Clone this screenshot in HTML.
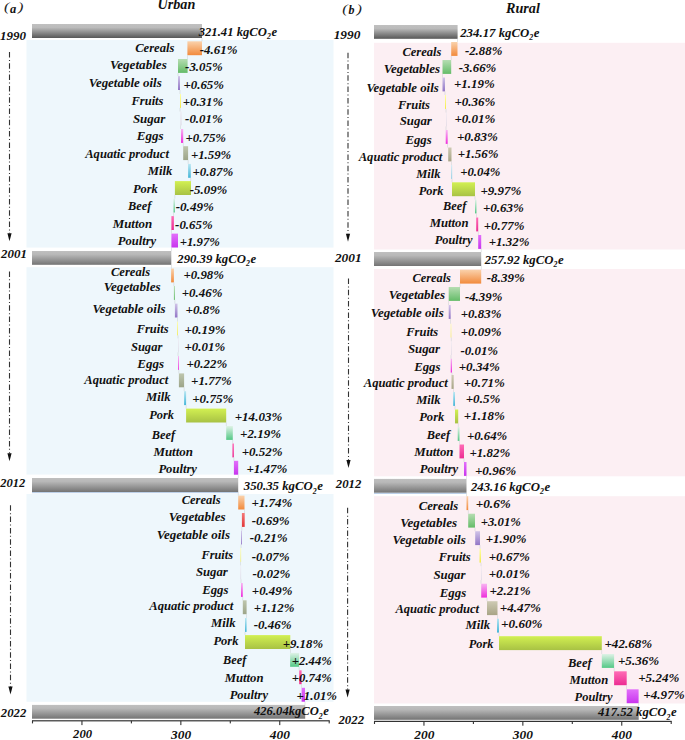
<!DOCTYPE html>
<html><head><meta charset="utf-8"><style>html,body{margin:0;padding:0;background:#fff;overflow:hidden}svg{display:block}</style></head><body>
<svg width="685" height="740" viewBox="0 0 685 740" font-family="'Liberation Serif', serif" font-weight="bold" font-style="italic">
<defs>
<linearGradient id="g_cereal" x1="0" y1="0" x2="0" y2="1"><stop offset="0" stop-color="#FAD2AC"/><stop offset="1" stop-color="#F28A3C"/></linearGradient>
<linearGradient id="g_veg" x1="0" y1="0" x2="0" y2="1"><stop offset="0" stop-color="#B6DDB2"/><stop offset="1" stop-color="#64BC68"/></linearGradient>
<linearGradient id="g_vegred" x1="0" y1="0" x2="0" y2="1"><stop offset="0" stop-color="#F47878"/><stop offset="1" stop-color="#E23636"/></linearGradient>
<linearGradient id="g_oil" x1="0" y1="0" x2="0" y2="1"><stop offset="0" stop-color="#D0C4E8"/><stop offset="1" stop-color="#9276C6"/></linearGradient>
<linearGradient id="g_fruit" x1="0" y1="0" x2="0" y2="1"><stop offset="0" stop-color="#FFFFA8"/><stop offset="1" stop-color="#F2EA4A"/></linearGradient>
<linearGradient id="g_sugar" x1="0" y1="0" x2="0" y2="1"><stop offset="0" stop-color="#EEEAF2"/><stop offset="1" stop-color="#D8D2E0"/></linearGradient>
<linearGradient id="g_egg" x1="0" y1="0" x2="0" y2="1"><stop offset="0" stop-color="#F8B4F2"/><stop offset="1" stop-color="#EE2EDC"/></linearGradient>
<linearGradient id="g_aqua" x1="0" y1="0" x2="0" y2="1"><stop offset="0" stop-color="#BEC6AE"/><stop offset="1" stop-color="#9CA488"/></linearGradient>
<linearGradient id="g_aquaR" x1="0" y1="0" x2="0" y2="1"><stop offset="0" stop-color="#CECAB4"/><stop offset="1" stop-color="#A8A486"/></linearGradient>
<linearGradient id="g_milk" x1="0" y1="0" x2="0" y2="1"><stop offset="0" stop-color="#B8E6F2"/><stop offset="1" stop-color="#44B6D8"/></linearGradient>
<linearGradient id="g_pork" x1="0" y1="0" x2="0" y2="1"><stop offset="0" stop-color="#D2F052"/><stop offset="1" stop-color="#A8C244"/></linearGradient>
<linearGradient id="g_beef" x1="0" y1="0" x2="0" y2="1"><stop offset="0" stop-color="#DEF2E6"/><stop offset="1" stop-color="#54C886"/></linearGradient>
<linearGradient id="g_mutton" x1="0" y1="0" x2="0" y2="1"><stop offset="0" stop-color="#FF6CB6"/><stop offset="1" stop-color="#EC2C92"/></linearGradient>
<linearGradient id="g_poultry" x1="0" y1="0" x2="0" y2="1"><stop offset="0" stop-color="#E270FA"/><stop offset="1" stop-color="#C834EE"/></linearGradient>
<linearGradient id="g_gd" x1="0" y1="0" x2="0" y2="1"><stop offset="0" stop-color="#C0C0C0"/><stop offset="0.25" stop-color="#BBBBBB"/><stop offset="1" stop-color="#575757"/></linearGradient>
<linearGradient id="g_gl" x1="0" y1="0" x2="0" y2="1"><stop offset="0" stop-color="#BFBFBF"/><stop offset="0.25" stop-color="#B8B8B8"/><stop offset="1" stop-color="#747474"/></linearGradient>
</defs>
<rect width="685" height="740" fill="#fff"/>
<rect x="26.5" y="40" width="307.0" height="207.6" fill="#EEF7FC"/>
<rect x="26.5" y="267.2" width="307.0" height="207.4" fill="#EEF7FC"/>
<rect x="26.5" y="494" width="307.0" height="207.8" fill="#EEF7FC"/>
<rect x="374" y="42.8" width="311" height="206.7" fill="#FCEFF3"/>
<rect x="374" y="269" width="311" height="207.3" fill="#FCEFF3"/>
<rect x="374" y="496.2" width="311" height="207.3" fill="#FCEFF3"/>
<rect x="32" y="24" width="170.0" height="14.0" fill="url(#g_gd)"/>
<rect x="32" y="251" width="139.3" height="13.8" fill="url(#g_gl)"/>
<rect x="32" y="478" width="206.2" height="14.0" fill="url(#g_gl)"/>
<rect x="32" y="704.9" width="273.2" height="13.8" fill="url(#g_gl)"/>
<rect x="374" y="25" width="83.6" height="13.8" fill="url(#g_gd)"/>
<rect x="374" y="252" width="107.2" height="14.0" fill="url(#g_gl)"/>
<rect x="374" y="478.9" width="92.5" height="13.9" fill="url(#g_gl)"/>
<rect x="374" y="706" width="264.7" height="13.8" fill="url(#g_gl)"/>
<rect x="32" y="492" width="206.2" height="1.2" fill="#BCD0E8"/>
<rect x="374" y="492.8" width="92.5" height="1.2" fill="#BCD0E8"/>
<rect x="187.4" y="41.3" width="14.60" height="13.9" fill="url(#g_cereal)"/>
<rect x="178" y="59" width="9.60" height="13.9" fill="url(#g_veg)"/>
<rect x="178" y="76.1" width="2.00" height="13.9" fill="url(#g_oil)"/>
<rect x="180" y="94" width="1.00" height="13.9" fill="url(#g_fruit)"/>
<rect x="180.5" y="111.5" width="1.00" height="13.9" fill="url(#g_sugar)"/>
<rect x="181" y="129" width="2.20" height="13.9" fill="url(#g_egg)"/>
<rect x="183.2" y="146.2" width="4.90" height="13.9" fill="url(#g_aqua)"/>
<rect x="188.1" y="163.9" width="2.70" height="13.9" fill="url(#g_milk)"/>
<rect x="174.9" y="181.1" width="16.10" height="13.9" fill="url(#g_pork)"/>
<rect x="173.5" y="198.6" width="1.40" height="13.9" fill="url(#g_beef)"/>
<rect x="171.4" y="216.1" width="2.50" height="13.9" fill="url(#g_mutton)"/>
<rect x="171.4" y="233.6" width="6.60" height="13.9" fill="url(#g_poultry)"/>
<rect x="171.1" y="268.5" width="2.80" height="13.9" fill="url(#g_cereal)"/>
<rect x="173.9" y="286" width="1.00" height="13.9" fill="url(#g_veg)"/>
<rect x="174.9" y="303.6" width="2.60" height="13.9" fill="url(#g_oil)"/>
<rect x="177.2" y="321.5" width="0.80" height="13.9" fill="url(#g_fruit)"/>
<rect x="178" y="338.4" width="0.60" height="13.9" fill="url(#g_sugar)"/>
<rect x="178" y="356" width="0.90" height="13.9" fill="url(#g_egg)"/>
<rect x="178.9" y="373.4" width="5.20" height="13.9" fill="url(#g_aqua)"/>
<rect x="184.1" y="391.2" width="2.00" height="13.9" fill="url(#g_milk)"/>
<rect x="186.1" y="408.6" width="40.10" height="13.9" fill="url(#g_pork)"/>
<rect x="226.2" y="426" width="6.60" height="13.9" fill="url(#g_beef)"/>
<rect x="232.4" y="443.5" width="1.50" height="13.9" fill="url(#g_mutton)"/>
<rect x="233.9" y="460.8" width="4.30" height="13.9" fill="url(#g_poultry)"/>
<rect x="238.2" y="495.6" width="6.30" height="13.9" fill="url(#g_cereal)"/>
<rect x="241.9" y="513" width="2.80" height="13.9" fill="url(#g_vegred)"/>
<rect x="241" y="530.6" width="0.90" height="13.9" fill="url(#g_oil)"/>
<rect x="240.5" y="548" width="0.60" height="13.9" fill="url(#g_fruit)"/>
<rect x="240.5" y="565.4" width="0.60" height="13.9" fill="url(#g_sugar)"/>
<rect x="241" y="583" width="1.80" height="13.9" fill="url(#g_egg)"/>
<rect x="242.8" y="600.3" width="3.80" height="13.9" fill="url(#g_aqua)"/>
<rect x="245" y="618" width="1.60" height="13.9" fill="url(#g_milk)"/>
<rect x="245" y="635.1" width="45.30" height="13.9" fill="url(#g_pork)"/>
<rect x="290.1" y="652.9" width="9.00" height="13.9" fill="url(#g_beef)"/>
<rect x="299.2" y="670.3" width="2.40" height="13.9" fill="url(#g_mutton)"/>
<rect x="301.6" y="687.8" width="3.40" height="13.9" fill="url(#g_poultry)"/>
<rect x="451.2" y="42" width="6.30" height="13.9" fill="url(#g_cereal)"/>
<rect x="442.5" y="60" width="8.70" height="13.9" fill="url(#g_veg)"/>
<rect x="442.5" y="77.5" width="2.50" height="13.9" fill="url(#g_oil)"/>
<rect x="445" y="95" width="1.00" height="13.9" fill="url(#g_fruit)"/>
<rect x="446" y="112.5" width="0.60" height="13.9" fill="url(#g_sugar)"/>
<rect x="445.7" y="130" width="2.00" height="13.9" fill="url(#g_egg)"/>
<rect x="448.2" y="147.5" width="3.30" height="13.9" fill="url(#g_aquaR)"/>
<rect x="451.5" y="165" width="0.60" height="13.9" fill="url(#g_milk)"/>
<rect x="452" y="182.3" width="23.00" height="13.9" fill="url(#g_pork)"/>
<rect x="475" y="199.5" width="1.50" height="13.9" fill="url(#g_beef)"/>
<rect x="476.2" y="217.5" width="2.00" height="13.9" fill="url(#g_mutton)"/>
<rect x="478.2" y="235" width="3.00" height="13.9" fill="url(#g_poultry)"/>
<rect x="460" y="269.7" width="21.20" height="13.9" fill="url(#g_cereal)"/>
<rect x="448.7" y="287" width="11.30" height="13.9" fill="url(#g_veg)"/>
<rect x="448.7" y="305" width="2.00" height="13.9" fill="url(#g_oil)"/>
<rect x="450.7" y="323.7" width="0.60" height="13.9" fill="url(#g_fruit)"/>
<rect x="451" y="341.2" width="0.60" height="13.9" fill="url(#g_sugar)"/>
<rect x="450.7" y="358.7" width="1.30" height="13.9" fill="url(#g_egg)"/>
<rect x="451.5" y="375" width="2.20" height="13.9" fill="url(#g_aquaR)"/>
<rect x="453.2" y="392" width="1.80" height="13.9" fill="url(#g_milk)"/>
<rect x="455" y="409.5" width="3.20" height="13.9" fill="url(#g_pork)"/>
<rect x="457.7" y="427" width="1.80" height="13.9" fill="url(#g_beef)"/>
<rect x="459.5" y="444.5" width="4.50" height="13.9" fill="url(#g_mutton)"/>
<rect x="464" y="462" width="2.50" height="13.9" fill="url(#g_poultry)"/>
<rect x="466.5" y="496.2" width="1.70" height="13.9" fill="url(#g_cereal)"/>
<rect x="468.2" y="513.7" width="6.80" height="13.9" fill="url(#g_veg)"/>
<rect x="475.2" y="531.2" width="4.80" height="13.9" fill="url(#g_oil)"/>
<rect x="479.5" y="548.7" width="1.50" height="13.9" fill="url(#g_fruit)"/>
<rect x="481" y="566.2" width="0.60" height="13.9" fill="url(#g_sugar)"/>
<rect x="481.2" y="583.7" width="5.80" height="13.9" fill="url(#g_egg)"/>
<rect x="487" y="601.2" width="10.50" height="13.9" fill="url(#g_aquaR)"/>
<rect x="497" y="618.7" width="2.00" height="13.9" fill="url(#g_milk)"/>
<rect x="499" y="636.2" width="102.80" height="13.9" fill="url(#g_pork)"/>
<rect x="601.8" y="654" width="12.30" height="13.9" fill="url(#g_beef)"/>
<rect x="614.1" y="671.3" width="12.60" height="13.9" fill="url(#g_mutton)"/>
<rect x="626.7" y="689.3" width="11.90" height="13.9" fill="url(#g_poultry)"/>
<rect x="201.70" y="38.00" width="0.6" height="3.30" fill="#C8CCD0" opacity="0.8"/>
<rect x="187.10" y="55.20" width="0.6" height="3.80" fill="#C8CCD0" opacity="0.8"/>
<rect x="177.70" y="72.90" width="0.6" height="3.20" fill="#C8CCD0" opacity="0.8"/>
<rect x="179.70" y="90.00" width="0.6" height="4.00" fill="#C8CCD0" opacity="0.8"/>
<rect x="179.70" y="107.90" width="0.6" height="3.60" fill="#C8CCD0" opacity="0.8"/>
<rect x="180.20" y="125.40" width="0.6" height="3.60" fill="#C8CCD0" opacity="0.8"/>
<rect x="182.90" y="142.90" width="0.6" height="3.30" fill="#C8CCD0" opacity="0.8"/>
<rect x="187.80" y="160.10" width="0.6" height="3.80" fill="#C8CCD0" opacity="0.8"/>
<rect x="190.50" y="177.80" width="0.6" height="3.30" fill="#C8CCD0" opacity="0.8"/>
<rect x="174.60" y="195.00" width="0.6" height="3.60" fill="#C8CCD0" opacity="0.8"/>
<rect x="173.20" y="212.50" width="0.6" height="3.60" fill="#C8CCD0" opacity="0.8"/>
<rect x="171.10" y="230.00" width="0.6" height="3.60" fill="#C8CCD0" opacity="0.8"/>
<rect x="171.10" y="247.50" width="0.6" height="3.50" fill="#C8CCD0" opacity="0.8"/>
<rect x="171.00" y="264.80" width="0.6" height="3.70" fill="#C8CCD0" opacity="0.8"/>
<rect x="173.60" y="282.40" width="0.6" height="3.60" fill="#C8CCD0" opacity="0.8"/>
<rect x="174.60" y="299.90" width="0.6" height="3.70" fill="#C8CCD0" opacity="0.8"/>
<rect x="177.20" y="317.50" width="0.6" height="4.00" fill="#C8CCD0" opacity="0.8"/>
<rect x="177.70" y="335.40" width="0.6" height="3.00" fill="#C8CCD0" opacity="0.8"/>
<rect x="177.70" y="352.30" width="0.6" height="3.70" fill="#C8CCD0" opacity="0.8"/>
<rect x="178.60" y="369.90" width="0.6" height="3.50" fill="#C8CCD0" opacity="0.8"/>
<rect x="183.80" y="387.30" width="0.6" height="3.90" fill="#C8CCD0" opacity="0.8"/>
<rect x="185.80" y="405.10" width="0.6" height="3.50" fill="#C8CCD0" opacity="0.8"/>
<rect x="225.90" y="422.50" width="0.6" height="3.50" fill="#C8CCD0" opacity="0.8"/>
<rect x="232.50" y="439.90" width="0.6" height="3.60" fill="#C8CCD0" opacity="0.8"/>
<rect x="233.60" y="457.40" width="0.6" height="3.40" fill="#C8CCD0" opacity="0.8"/>
<rect x="237.90" y="474.70" width="0.6" height="3.30" fill="#C8CCD0" opacity="0.8"/>
<rect x="237.90" y="492.00" width="0.6" height="3.60" fill="#C8CCD0" opacity="0.8"/>
<rect x="244.20" y="509.50" width="0.6" height="3.50" fill="#C8CCD0" opacity="0.8"/>
<rect x="241.60" y="526.90" width="0.6" height="3.70" fill="#C8CCD0" opacity="0.8"/>
<rect x="240.70" y="544.50" width="0.6" height="3.50" fill="#C8CCD0" opacity="0.8"/>
<rect x="240.20" y="561.90" width="0.6" height="3.50" fill="#C8CCD0" opacity="0.8"/>
<rect x="240.70" y="579.30" width="0.6" height="3.70" fill="#C8CCD0" opacity="0.8"/>
<rect x="242.50" y="596.90" width="0.6" height="3.40" fill="#C8CCD0" opacity="0.8"/>
<rect x="246.30" y="614.20" width="0.6" height="3.80" fill="#C8CCD0" opacity="0.8"/>
<rect x="244.70" y="631.90" width="0.6" height="3.20" fill="#C8CCD0" opacity="0.8"/>
<rect x="290.00" y="649.00" width="0.6" height="3.90" fill="#C8CCD0" opacity="0.8"/>
<rect x="298.80" y="666.80" width="0.6" height="3.50" fill="#C8CCD0" opacity="0.8"/>
<rect x="301.30" y="684.20" width="0.6" height="3.60" fill="#C8CCD0" opacity="0.8"/>
<rect x="304.70" y="701.70" width="0.6" height="3.20" fill="#C8CCD0" opacity="0.8"/>
<rect x="457.30" y="38.80" width="0.6" height="3.20" fill="#C8CCD0" opacity="0.8"/>
<rect x="450.90" y="55.90" width="0.6" height="4.10" fill="#C8CCD0" opacity="0.8"/>
<rect x="442.20" y="73.90" width="0.6" height="3.60" fill="#C8CCD0" opacity="0.8"/>
<rect x="444.70" y="91.40" width="0.6" height="3.60" fill="#C8CCD0" opacity="0.8"/>
<rect x="445.70" y="108.90" width="0.6" height="3.60" fill="#C8CCD0" opacity="0.8"/>
<rect x="445.70" y="126.40" width="0.6" height="3.60" fill="#C8CCD0" opacity="0.8"/>
<rect x="447.40" y="143.90" width="0.6" height="3.60" fill="#C8CCD0" opacity="0.8"/>
<rect x="451.20" y="161.40" width="0.6" height="3.60" fill="#C8CCD0" opacity="0.8"/>
<rect x="451.70" y="178.90" width="0.6" height="3.40" fill="#C8CCD0" opacity="0.8"/>
<rect x="474.70" y="196.20" width="0.6" height="3.30" fill="#C8CCD0" opacity="0.8"/>
<rect x="476.20" y="213.40" width="0.6" height="4.10" fill="#C8CCD0" opacity="0.8"/>
<rect x="477.90" y="231.40" width="0.6" height="3.60" fill="#C8CCD0" opacity="0.8"/>
<rect x="480.90" y="248.90" width="0.6" height="3.10" fill="#C8CCD0" opacity="0.8"/>
<rect x="480.90" y="266.00" width="0.6" height="3.70" fill="#C8CCD0" opacity="0.8"/>
<rect x="459.70" y="283.60" width="0.6" height="3.40" fill="#C8CCD0" opacity="0.8"/>
<rect x="448.40" y="300.90" width="0.6" height="4.10" fill="#C8CCD0" opacity="0.8"/>
<rect x="450.40" y="318.90" width="0.6" height="4.80" fill="#C8CCD0" opacity="0.8"/>
<rect x="450.90" y="337.60" width="0.6" height="3.60" fill="#C8CCD0" opacity="0.8"/>
<rect x="450.70" y="355.10" width="0.6" height="3.60" fill="#C8CCD0" opacity="0.8"/>
<rect x="451.70" y="372.60" width="0.6" height="2.40" fill="#C8CCD0" opacity="0.8"/>
<rect x="453.40" y="388.90" width="0.6" height="3.10" fill="#C8CCD0" opacity="0.8"/>
<rect x="454.70" y="405.90" width="0.6" height="3.60" fill="#C8CCD0" opacity="0.8"/>
<rect x="457.90" y="423.40" width="0.6" height="3.60" fill="#C8CCD0" opacity="0.8"/>
<rect x="459.20" y="440.90" width="0.6" height="3.60" fill="#C8CCD0" opacity="0.8"/>
<rect x="463.70" y="458.40" width="0.6" height="3.60" fill="#C8CCD0" opacity="0.8"/>
<rect x="466.20" y="475.90" width="0.6" height="3.00" fill="#C8CCD0" opacity="0.8"/>
<rect x="466.20" y="492.80" width="0.6" height="3.40" fill="#C8CCD0" opacity="0.8"/>
<rect x="467.90" y="510.10" width="0.6" height="3.60" fill="#C8CCD0" opacity="0.8"/>
<rect x="474.70" y="527.60" width="0.6" height="3.60" fill="#C8CCD0" opacity="0.8"/>
<rect x="479.70" y="545.10" width="0.6" height="3.60" fill="#C8CCD0" opacity="0.8"/>
<rect x="480.70" y="562.60" width="0.6" height="3.60" fill="#C8CCD0" opacity="0.8"/>
<rect x="480.70" y="580.10" width="0.6" height="3.60" fill="#C8CCD0" opacity="0.8"/>
<rect x="486.70" y="597.60" width="0.6" height="3.60" fill="#C8CCD0" opacity="0.8"/>
<rect x="497.20" y="615.10" width="0.6" height="3.60" fill="#C8CCD0" opacity="0.8"/>
<rect x="498.70" y="632.60" width="0.6" height="3.60" fill="#C8CCD0" opacity="0.8"/>
<rect x="601.50" y="650.10" width="0.6" height="3.90" fill="#C8CCD0" opacity="0.8"/>
<rect x="613.80" y="667.90" width="0.6" height="3.40" fill="#C8CCD0" opacity="0.8"/>
<rect x="626.40" y="685.20" width="0.6" height="4.10" fill="#C8CCD0" opacity="0.8"/>
<rect x="638.30" y="703.20" width="0.6" height="2.80" fill="#C8CCD0" opacity="0.8"/>
<line x1="9.5" y1="52" x2="9.5" y2="233.2" stroke="#333" stroke-width="1.1" stroke-dasharray="5.5 2.4 1 2.4"/><polygon points="7.4,233.2 11.6,233.2 9.5,241.2" fill="#111"/>
<line x1="9.5" y1="271.4" x2="9.5" y2="453.2" stroke="#333" stroke-width="1.1" stroke-dasharray="5.5 2.4 1 2.4"/><polygon points="7.4,453.2 11.6,453.2 9.5,461.2" fill="#111"/>
<line x1="10.5" y1="505.3" x2="10.5" y2="686.5" stroke="#333" stroke-width="1.1" stroke-dasharray="5.5 2.4 1 2.4"/><polygon points="8.4,686.5 12.6,686.5 10.5,694.5" fill="#111"/>
<line x1="348" y1="52.7" x2="348" y2="233.7" stroke="#333" stroke-width="1.1" stroke-dasharray="5.5 2.4 1 2.4"/><polygon points="345.9,233.7 350.1,233.7 348,241.7" fill="#111"/>
<line x1="348.5" y1="278.5" x2="348.5" y2="460" stroke="#333" stroke-width="1.1" stroke-dasharray="5.5 2.4 1 2.4"/><polygon points="346.4,460 350.6,460 348.5,468" fill="#111"/>
<line x1="347.6" y1="507.8" x2="347.6" y2="689.4" stroke="#333" stroke-width="1.1" stroke-dasharray="5.5 2.4 1 2.4"/><polygon points="345.5,689.4 349.70000000000005,689.4 347.6,697.4" fill="#111"/>
<rect x="32.0" y="720.1999999999999" width="297.7" height="1.2" fill="#333"/><rect x="31.95" y="720.8" width="1.1" height="2.6" fill="#333"/><rect x="81.40" y="720.8" width="1.1" height="4.3" fill="#333"/><rect x="130.85" y="720.8" width="1.1" height="2.6" fill="#333"/><rect x="180.30" y="720.8" width="1.1" height="4.3" fill="#333"/><rect x="229.75" y="720.8" width="1.1" height="2.6" fill="#333"/><rect x="279.20" y="720.8" width="1.1" height="4.3" fill="#333"/><rect x="328.65" y="720.8" width="1.1" height="2.6" fill="#333"/>
<rect x="374.0" y="720.8" width="297.7" height="1.2" fill="#333"/><rect x="373.95" y="721.4" width="1.1" height="2.6" fill="#333"/><rect x="423.40" y="721.4" width="1.1" height="4.3" fill="#333"/><rect x="472.85" y="721.4" width="1.1" height="2.6" fill="#333"/><rect x="522.30" y="721.4" width="1.1" height="4.3" fill="#333"/><rect x="571.75" y="721.4" width="1.1" height="2.6" fill="#333"/><rect x="621.20" y="721.4" width="1.1" height="4.3" fill="#333"/><rect x="670.65" y="721.4" width="1.1" height="2.6" fill="#333"/>
<text transform="translate(135.21,51.72) scale(0.970,1)" font-size="13" fill="#111">Cereals</text>
<text transform="translate(109.89,69.22) scale(1.011,1)" font-size="13" fill="#111">Vegetables</text>
<text transform="translate(88.70,87.22) scale(0.997,1)" font-size="13" fill="#111">Vegetable oils</text>
<text transform="translate(131.41,105.42) scale(0.966,1)" font-size="13" fill="#111">Fruits</text>
<text transform="translate(132.90,122.92) scale(0.997,1)" font-size="13" fill="#111">Sugar</text>
<text transform="translate(136.70,140.21) scale(1.004,1)" font-size="13" fill="#111">Eggs</text>
<text transform="translate(85.21,158.21) scale(0.972,1)" font-size="13" fill="#111">Aquatic product</text>
<text transform="translate(147.71,175.21) scale(0.971,1)" font-size="13" fill="#111">Milk</text>
<text transform="translate(132.91,192.71) scale(0.957,1)" font-size="13" fill="#111">Pork</text>
<text transform="translate(128.09,210.21) scale(0.950,1)" font-size="13" fill="#111">Beef</text>
<text transform="translate(112.70,227.71) scale(0.995,1)" font-size="13" fill="#111">Mutton</text>
<text transform="translate(117.71,245.21) scale(0.970,1)" font-size="13" fill="#111">Poultry</text>
<text transform="translate(110.91,275.71) scale(0.970,1)" font-size="13" fill="#111">Cereals</text>
<text transform="translate(103.69,291.41) scale(1.011,1)" font-size="13" fill="#111">Vegetables</text>
<text transform="translate(92.40,313.21) scale(0.999,1)" font-size="13" fill="#111">Vegetable oils</text>
<text transform="translate(136.71,333.21) scale(0.957,1)" font-size="13" fill="#111">Fruits</text>
<text transform="translate(130.91,350.71) scale(0.966,1)" font-size="13" fill="#111">Sugar</text>
<text transform="translate(137.20,367.71) scale(1.004,1)" font-size="13" fill="#111">Eggs</text>
<text transform="translate(84.21,384.41) scale(0.975,1)" font-size="13" fill="#111">Aquatic product</text>
<text transform="translate(145.91,401.21) scale(0.975,1)" font-size="13" fill="#111">Milk</text>
<text transform="translate(149.21,419.41) scale(0.953,1)" font-size="13" fill="#111">Pork</text>
<text transform="translate(151.78,438.71) scale(0.950,1)" font-size="13" fill="#111">Beef</text>
<text transform="translate(153.40,456.21) scale(0.997,1)" font-size="13" fill="#111">Mutton</text>
<text transform="translate(158.41,473.21) scale(0.972,1)" font-size="13" fill="#111">Poultry</text>
<text transform="translate(181.71,503.71) scale(0.964,1)" font-size="13" fill="#111">Cereals</text>
<text transform="translate(168.69,520.72) scale(1.011,1)" font-size="13" fill="#111">Vegetables</text>
<text transform="translate(156.70,538.72) scale(1.001,1)" font-size="13" fill="#111">Vegetable oils</text>
<text transform="translate(201.41,558.92) scale(0.951,1)" font-size="13" fill="#111">Fruits</text>
<text transform="translate(195.91,576.22) scale(0.981,1)" font-size="13" fill="#111">Sugar</text>
<text transform="translate(202.20,593.72) scale(0.984,1)" font-size="13" fill="#111">Eggs</text>
<text transform="translate(149.21,610.22) scale(0.975,1)" font-size="13" fill="#111">Aquatic product</text>
<text transform="translate(210.91,626.92) scale(0.975,1)" font-size="13" fill="#111">Milk</text>
<text transform="translate(213.41,644.92) scale(0.965,1)" font-size="13" fill="#111">Pork</text>
<text transform="translate(223.09,664.42) scale(0.950,1)" font-size="13" fill="#111">Beef</text>
<text transform="translate(224.71,681.92) scale(0.977,1)" font-size="13" fill="#111">Mutton</text>
<text transform="translate(229.71,698.72) scale(0.964,1)" font-size="13" fill="#111">Poultry</text>
<text transform="translate(402.41,56.22) scale(0.964,1)" font-size="13" fill="#111">Cereals</text>
<text transform="translate(383.70,73.22) scale(1.002,1)" font-size="13" fill="#111">Vegetables</text>
<text transform="translate(366.42,91.92) scale(0.987,1)" font-size="13" fill="#111">Vegetable oils</text>
<text transform="translate(397.91,108.72) scale(0.966,1)" font-size="13" fill="#111">Fruits</text>
<text transform="translate(399.70,125.22) scale(0.988,1)" font-size="13" fill="#111">Sugar</text>
<text transform="translate(405.40,143.71) scale(0.984,1)" font-size="13" fill="#111">Eggs</text>
<text transform="translate(358.71,161.41) scale(0.969,1)" font-size="13" fill="#111">Aquatic product</text>
<text transform="translate(416.21,178.21) scale(0.963,1)" font-size="13" fill="#111">Milk</text>
<text transform="translate(418.71,195.21) scale(0.953,1)" font-size="13" fill="#111">Pork</text>
<text transform="translate(443.08,210.21) scale(0.950,1)" font-size="13" fill="#111">Beef</text>
<text transform="translate(429.71,226.91) scale(0.977,1)" font-size="13" fill="#111">Mutton</text>
<text transform="translate(434.71,243.71) scale(0.952,1)" font-size="13" fill="#111">Poultry</text>
<text transform="translate(412.41,282.41) scale(0.952,1)" font-size="13" fill="#111">Cereals</text>
<text transform="translate(388.70,298.71) scale(1.002,1)" font-size="13" fill="#111">Vegetables</text>
<text transform="translate(370.70,316.91) scale(0.997,1)" font-size="13" fill="#111">Vegetable oils</text>
<text transform="translate(406.21,335.71) scale(0.963,1)" font-size="13" fill="#111">Fruits</text>
<text transform="translate(407.90,352.71) scale(0.988,1)" font-size="13" fill="#111">Sugar</text>
<text transform="translate(414.20,370.71) scale(0.984,1)" font-size="13" fill="#111">Eggs</text>
<text transform="translate(363.71,386.91) scale(0.975,1)" font-size="13" fill="#111">Aquatic product</text>
<text transform="translate(416.21,404.41) scale(0.963,1)" font-size="13" fill="#111">Milk</text>
<text transform="translate(419.21,421.41) scale(0.965,1)" font-size="13" fill="#111">Pork</text>
<text transform="translate(426.78,438.71) scale(0.950,1)" font-size="13" fill="#111">Beef</text>
<text transform="translate(414.20,456.41) scale(0.990,1)" font-size="13" fill="#111">Mutton</text>
<text transform="translate(419.71,473.21) scale(0.970,1)" font-size="13" fill="#111">Poultry</text>
<text transform="translate(418.71,510.21) scale(0.977,1)" font-size="13" fill="#111">Cereals</text>
<text transform="translate(400.19,526.92) scale(1.011,1)" font-size="13" fill="#111">Vegetables</text>
<text transform="translate(392.40,543.92) scale(1.001,1)" font-size="13" fill="#111">Vegetable oils</text>
<text transform="translate(438.71,561.42) scale(0.963,1)" font-size="13" fill="#111">Fruits</text>
<text transform="translate(433.40,578.72) scale(0.988,1)" font-size="13" fill="#111">Sugar</text>
<text transform="translate(439.70,596.92) scale(0.992,1)" font-size="13" fill="#111">Eggs</text>
<text transform="translate(395.41,613.22) scale(0.970,1)" font-size="13" fill="#111">Aquatic product</text>
<text transform="translate(465.41,629.42) scale(0.975,1)" font-size="13" fill="#111">Milk</text>
<text transform="translate(468.71,647.72) scale(0.953,1)" font-size="13" fill="#111">Pork</text>
<text transform="translate(568.01,666.72) scale(0.965,1)" font-size="13" fill="#111">Beef</text>
<text transform="translate(569.51,684.01) scale(0.974,1)" font-size="13" fill="#111">Mutton</text>
<text transform="translate(574.61,701.42) scale(0.957,1)" font-size="13" fill="#111">Poultry</text>
<text transform="translate(199.80,53.51) scale(0.997,1)" font-size="13" fill="#111">-4.61%</text>
<text transform="translate(185.10,70.71) scale(0.992,1)" font-size="13" fill="#111">-3.05%</text>
<text transform="translate(183.41,88.91) scale(0.992,1)" font-size="13" fill="#111">+0.65%</text>
<text transform="translate(182.72,105.81) scale(0.985,1)" font-size="13" fill="#111">+0.31%</text>
<text transform="translate(185.10,123.31) scale(0.992,1)" font-size="13" fill="#111">-0.01%</text>
<text transform="translate(185.51,142.11) scale(0.990,1)" font-size="13" fill="#111">+0.75%</text>
<text transform="translate(190.92,159.01) scale(0.985,1)" font-size="13" fill="#111">+1.59%</text>
<text transform="translate(192.51,176.31) scale(0.995,1)" font-size="13" fill="#111">+0.87%</text>
<text transform="translate(189.70,194.11) scale(0.995,1)" font-size="13" fill="#111">-5.09%</text>
<text transform="translate(175.70,211.01) scale(1.008,1)" font-size="13" fill="#111">-0.49%</text>
<text transform="translate(175.10,229.31) scale(0.992,1)" font-size="13" fill="#111">-0.65%</text>
<text transform="translate(179.73,246.41) scale(0.980,1)" font-size="13" fill="#111">+1.97%</text>
<text transform="translate(183.41,279.11) scale(0.992,1)" font-size="13" fill="#111">+0.98%</text>
<text transform="translate(181.71,296.71) scale(0.995,1)" font-size="13" fill="#111">+0.46%</text>
<text transform="translate(185.49,314.21) scale(1.009,1)" font-size="13" fill="#111">+0.8%</text>
<text transform="translate(184.39,333.51) scale(1.005,1)" font-size="13" fill="#111">+0.19%</text>
<text transform="translate(184.41,351.11) scale(0.995,1)" font-size="13" fill="#111">+0.01%</text>
<text transform="translate(186.41,368.41) scale(0.995,1)" font-size="13" fill="#111">+0.22%</text>
<text transform="translate(191.11,385.31) scale(0.995,1)" font-size="13" fill="#111">+1.77%</text>
<text transform="translate(192.20,403.31) scale(1.003,1)" font-size="13" fill="#111">+0.75%</text>
<text transform="translate(234.70,420.51) scale(1.002,1)" font-size="13" fill="#111">+14.03%</text>
<text transform="translate(240.10,438.01) scale(1.000,1)" font-size="13" fill="#111">+2.19%</text>
<text transform="translate(241.70,455.61) scale(1.000,1)" font-size="13" fill="#111">+0.52%</text>
<text transform="translate(246.40,472.91) scale(1.003,1)" font-size="13" fill="#111">+1.47%</text>
<text transform="translate(251.40,507.11) scale(1.003,1)" font-size="13" fill="#111">+1.74%</text>
<text transform="translate(251.70,524.71) scale(1.003,1)" font-size="13" fill="#111">-0.69%</text>
<text transform="translate(249.70,542.21) scale(1.003,1)" font-size="13" fill="#111">-0.21%</text>
<text transform="translate(251.70,560.51) scale(1.003,1)" font-size="13" fill="#111">-0.07%</text>
<text transform="translate(252.40,578.01) scale(1.003,1)" font-size="13" fill="#111">-0.02%</text>
<text transform="translate(251.81,594.81) scale(0.992,1)" font-size="13" fill="#111">+0.49%</text>
<text transform="translate(253.71,612.31) scale(0.995,1)" font-size="13" fill="#111">+1.12%</text>
<text transform="translate(253.70,629.31) scale(1.003,1)" font-size="13" fill="#111">-0.46%</text>
<text transform="translate(282.72,647.51) scale(0.985,1)" font-size="13" fill="#111">+9.18%</text>
<text transform="translate(291.83,665.11) scale(0.977,1)" font-size="13" fill="#111">+2.44%</text>
<text transform="translate(291.83,682.21) scale(0.977,1)" font-size="13" fill="#111">+0.74%</text>
<text transform="translate(296.51,699.81) scale(0.990,1)" font-size="13" fill="#111">+1.01%</text>
<text transform="translate(464.90,55.01) scale(0.989,1)" font-size="13" fill="#111">-2.88%</text>
<text transform="translate(458.70,71.51) scale(0.995,1)" font-size="13" fill="#111">-3.66%</text>
<text transform="translate(453.90,88.31) scale(0.997,1)" font-size="13" fill="#111">+1.19%</text>
<text transform="translate(454.40,106.31) scale(1.003,1)" font-size="13" fill="#111">+0.36%</text>
<text transform="translate(454.40,123.31) scale(1.003,1)" font-size="13" fill="#111">+0.01%</text>
<text transform="translate(456.90,140.81) scale(1.003,1)" font-size="13" fill="#111">+0.83%</text>
<text transform="translate(457.71,157.81) scale(0.995,1)" font-size="13" fill="#111">+1.56%</text>
<text transform="translate(460.22,175.81) scale(0.982,1)" font-size="13" fill="#111">+0.04%</text>
<text transform="translate(480.40,194.51) scale(1.003,1)" font-size="13" fill="#111">+9.97%</text>
<text transform="translate(482.90,212.01) scale(1.003,1)" font-size="13" fill="#111">+0.63%</text>
<text transform="translate(483.71,229.51) scale(0.995,1)" font-size="13" fill="#111">+0.77%</text>
<text transform="translate(488.71,246.31) scale(0.995,1)" font-size="13" fill="#111">+1.32%</text>
<text transform="translate(486.70,282.01) scale(1.008,1)" font-size="13" fill="#111">-8.39%</text>
<text transform="translate(464.90,300.81) scale(0.989,1)" font-size="13" fill="#111">-4.39%</text>
<text transform="translate(460.71,317.81) scale(0.995,1)" font-size="13" fill="#111">+0.83%</text>
<text transform="translate(460.71,335.81) scale(0.995,1)" font-size="13" fill="#111">+0.09%</text>
<text transform="translate(460.40,354.51) scale(0.997,1)" font-size="13" fill="#111">-0.01%</text>
<text transform="translate(458.70,370.81) scale(1.003,1)" font-size="13" fill="#111">+0.34%</text>
<text transform="translate(463.70,387.01) scale(1.003,1)" font-size="13" fill="#111">+0.71%</text>
<text transform="translate(465.70,403.31) scale(1.003,1)" font-size="13" fill="#111">+0.5%</text>
<text transform="translate(463.70,420.31) scale(1.003,1)" font-size="13" fill="#111">+1.18%</text>
<text transform="translate(466.92,439.51) scale(0.985,1)" font-size="13" fill="#111">+0.64%</text>
<text transform="translate(469.40,457.01) scale(0.997,1)" font-size="13" fill="#111">+1.82%</text>
<text transform="translate(474.89,474.51) scale(1.010,1)" font-size="13" fill="#111">+0.96%</text>
<text transform="translate(475.68,508.31) scale(1.019,1)" font-size="13" fill="#111">+0.6%</text>
<text transform="translate(480.72,525.81) scale(0.982,1)" font-size="13" fill="#111">+3.01%</text>
<text transform="translate(485.71,543.31) scale(0.995,1)" font-size="13" fill="#111">+1.90%</text>
<text transform="translate(488.70,561.31) scale(1.003,1)" font-size="13" fill="#111">+0.67%</text>
<text transform="translate(488.70,577.81) scale(1.003,1)" font-size="13" fill="#111">+0.01%</text>
<text transform="translate(489.39,595.31) scale(1.010,1)" font-size="13" fill="#111">+2.21%</text>
<text transform="translate(499.69,611.71) scale(1.010,1)" font-size="13" fill="#111">+4.47%</text>
<text transform="translate(501.08,628.11) scale(1.013,1)" font-size="13" fill="#111">+0.60%</text>
<text transform="translate(604.39,647.61) scale(1.009,1)" font-size="13" fill="#111">+42.68%</text>
<text transform="translate(617.89,664.71) scale(1.010,1)" font-size="13" fill="#111">+5.36%</text>
<text transform="translate(638.20,681.71) scale(1.003,1)" font-size="13" fill="#111">+5.24%</text>
<text transform="translate(643.29,699.11) scale(1.010,1)" font-size="13" fill="#111">+4.97%</text>
<text transform="translate(198.71,35.71) scale(0.975,1)" font-size="13" fill="#111">321.41 kgCO<tspan font-size="8" dy="3.4">2</tspan><tspan dx="0.6" dy="-3.4">e</tspan></text>
<text transform="translate(177.31,262.51) scale(0.980,1)" font-size="13" fill="#111">290.39 kgCO<tspan font-size="8" dy="3.4">2</tspan><tspan dx="0.6" dy="-3.4">e</tspan></text>
<text transform="translate(243.80,490.31) scale(0.985,1)" font-size="13" fill="#111">350.35 kgCO<tspan font-size="8" dy="3.4">2</tspan><tspan dx="0.6" dy="-3.4">e</tspan></text>
<text transform="translate(254.01,715.31) scale(0.971,1)" font-size="13" fill="#111">426.04kgCO<tspan font-size="8" dy="3.4">2</tspan><tspan dx="0.6" dy="-3.4">e</tspan></text>
<text transform="translate(460.20,36.81) scale(0.987,1)" font-size="13" fill="#111">234.17 kgCO<tspan font-size="8" dy="3.4">2</tspan><tspan dx="0.6" dy="-3.4">e</tspan></text>
<text transform="translate(484.71,264.01) scale(0.982,1)" font-size="13" fill="#111">257.92 kgCO<tspan font-size="8" dy="3.4">2</tspan><tspan dx="0.6" dy="-3.4">e</tspan></text>
<text transform="translate(470.90,490.81) scale(0.986,1)" font-size="13" fill="#111">243.16 kgCO<tspan font-size="8" dy="3.4">2</tspan><tspan dx="0.6" dy="-3.4">e</tspan></text>
<text transform="translate(597.91,716.41) scale(0.980,1)" font-size="13" fill="#111">417.52 kgCO<tspan font-size="8" dy="3.4">2</tspan><tspan dx="0.6" dy="-3.4">e</tspan></text>
<text transform="translate(0.00,39.71) scale(1.000,1)" font-size="13" fill="#111">1990</text>
<text transform="translate(1.10,258.01) scale(0.996,1)" font-size="13" fill="#111">2001</text>
<text transform="translate(0.31,486.91) scale(0.965,1)" font-size="13" fill="#111">2012</text>
<text transform="translate(0.81,717.01) scale(0.980,1)" font-size="13" fill="#111">2022</text>
<text transform="translate(333.67,39.11) scale(1.025,1)" font-size="13" fill="#111">1990</text>
<text transform="translate(334.88,261.51) scale(1.030,1)" font-size="13" fill="#111">2001</text>
<text transform="translate(335.80,487.81) scale(0.984,1)" font-size="13" fill="#111">2012</text>
<text transform="translate(338.40,723.51) scale(0.988,1)" font-size="13" fill="#111">2022</text>
<text transform="translate(73.11,738.41) scale(0.973,1)" font-size="13" fill="#111">200</text>
<text transform="translate(171.12,738.71) scale(1.030,1)" font-size="13" fill="#111">300</text>
<text transform="translate(269.76,739.01) scale(1.030,1)" font-size="13" fill="#111">400</text>
<text transform="translate(414.26,739.11) scale(1.030,1)" font-size="13" fill="#111">200</text>
<text transform="translate(512.81,739.11) scale(1.030,1)" font-size="13" fill="#111">300</text>
<text transform="translate(611.87,739.11) scale(1.030,1)" font-size="13" fill="#111">400</text>
<text transform="translate(157.48,9.47) scale(1.014,1)" font-size="14" fill="#111">Urban</text>
<text transform="translate(506.00,13.27) scale(1.012,1)" font-size="14" fill="#111">Rural</text>
<text transform="translate(4.10,11.00) scale(1.35,1)" font-size="12" font-weight="normal" fill="#222">(</text><text x="10.1" y="12.5" font-size="12.5" fill="#111">a</text><text transform="translate(18.00,11.00) scale(1.35,1)" font-size="12" font-weight="normal" fill="#222">)</text>
<text transform="translate(342.30,12.60) scale(1.35,1)" font-size="12" font-weight="normal" fill="#222">(</text><text x="348.4" y="13.8" font-size="12" fill="#111">b</text><text transform="translate(356.50,12.60) scale(1.35,1)" font-size="12" font-weight="normal" fill="#222">)</text>
</svg>
</body></html>
